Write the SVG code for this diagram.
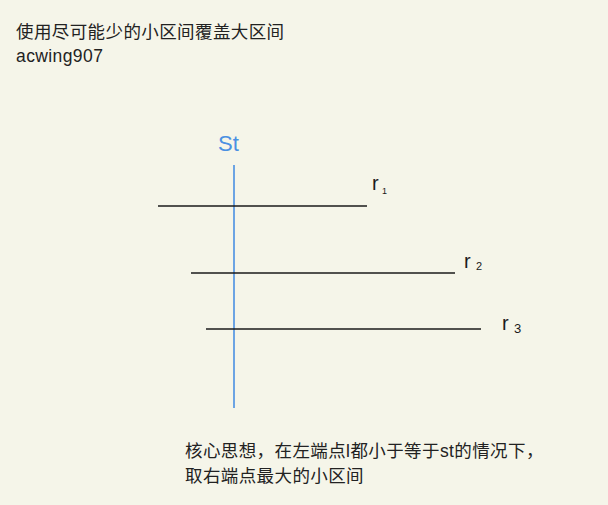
<svg xmlns="http://www.w3.org/2000/svg" width="608" height="505" viewBox="0 0 608 505">
<style>
.cjk{font-family:"Liberation Sans","Noto Sans CJK SC",sans-serif;font-size:17.5px;letter-spacing:0.4px;fill:#222}
.seg{stroke:#1a1a1a;stroke-width:1.3}
.lab{font-family:"Liberation Sans",sans-serif;fill:#1a1a1a}
</style>
<rect width="608" height="505" fill="#f5f5e9"/>
<text class="cjk" x="16" y="38">使用尽可能少的小区间覆盖大区间</text>
<text class="cjk" x="16" y="62">acwing907</text>
<g id="st">
<line x1="234" y1="165" x2="234" y2="408" stroke="#4a90e2" stroke-width="1.6"/>
<text x="218" y="151" font-family="Liberation Sans,sans-serif" font-size="22" fill="#4a90e2">St</text>
</g>
<g id="r1">
<line class="seg" x1="158" y1="206" x2="367" y2="206"/>
<text class="lab" x="372" y="190" font-size="20">r</text><text class="lab" x="382" y="194" font-size="9">1</text>
</g>
<g id="r2">
<line class="seg" x1="191" y1="273" x2="455" y2="273"/>
<text class="lab" x="464" y="268" font-size="20">r</text><text class="lab" x="476" y="270" font-size="11">2</text>
</g>
<g id="r3">
<line class="seg" x1="206" y1="329" x2="481" y2="329"/>
<text class="lab" x="502" y="330" font-size="20">r</text><text class="lab" x="514" y="333" font-size="13">3</text>
</g>
<text class="cjk" x="185" y="457">核心思想，在左端点l都小于等于st的情况下，</text>
<text class="cjk" x="185" y="482">取右端点最大的小区间</text>
</svg>
